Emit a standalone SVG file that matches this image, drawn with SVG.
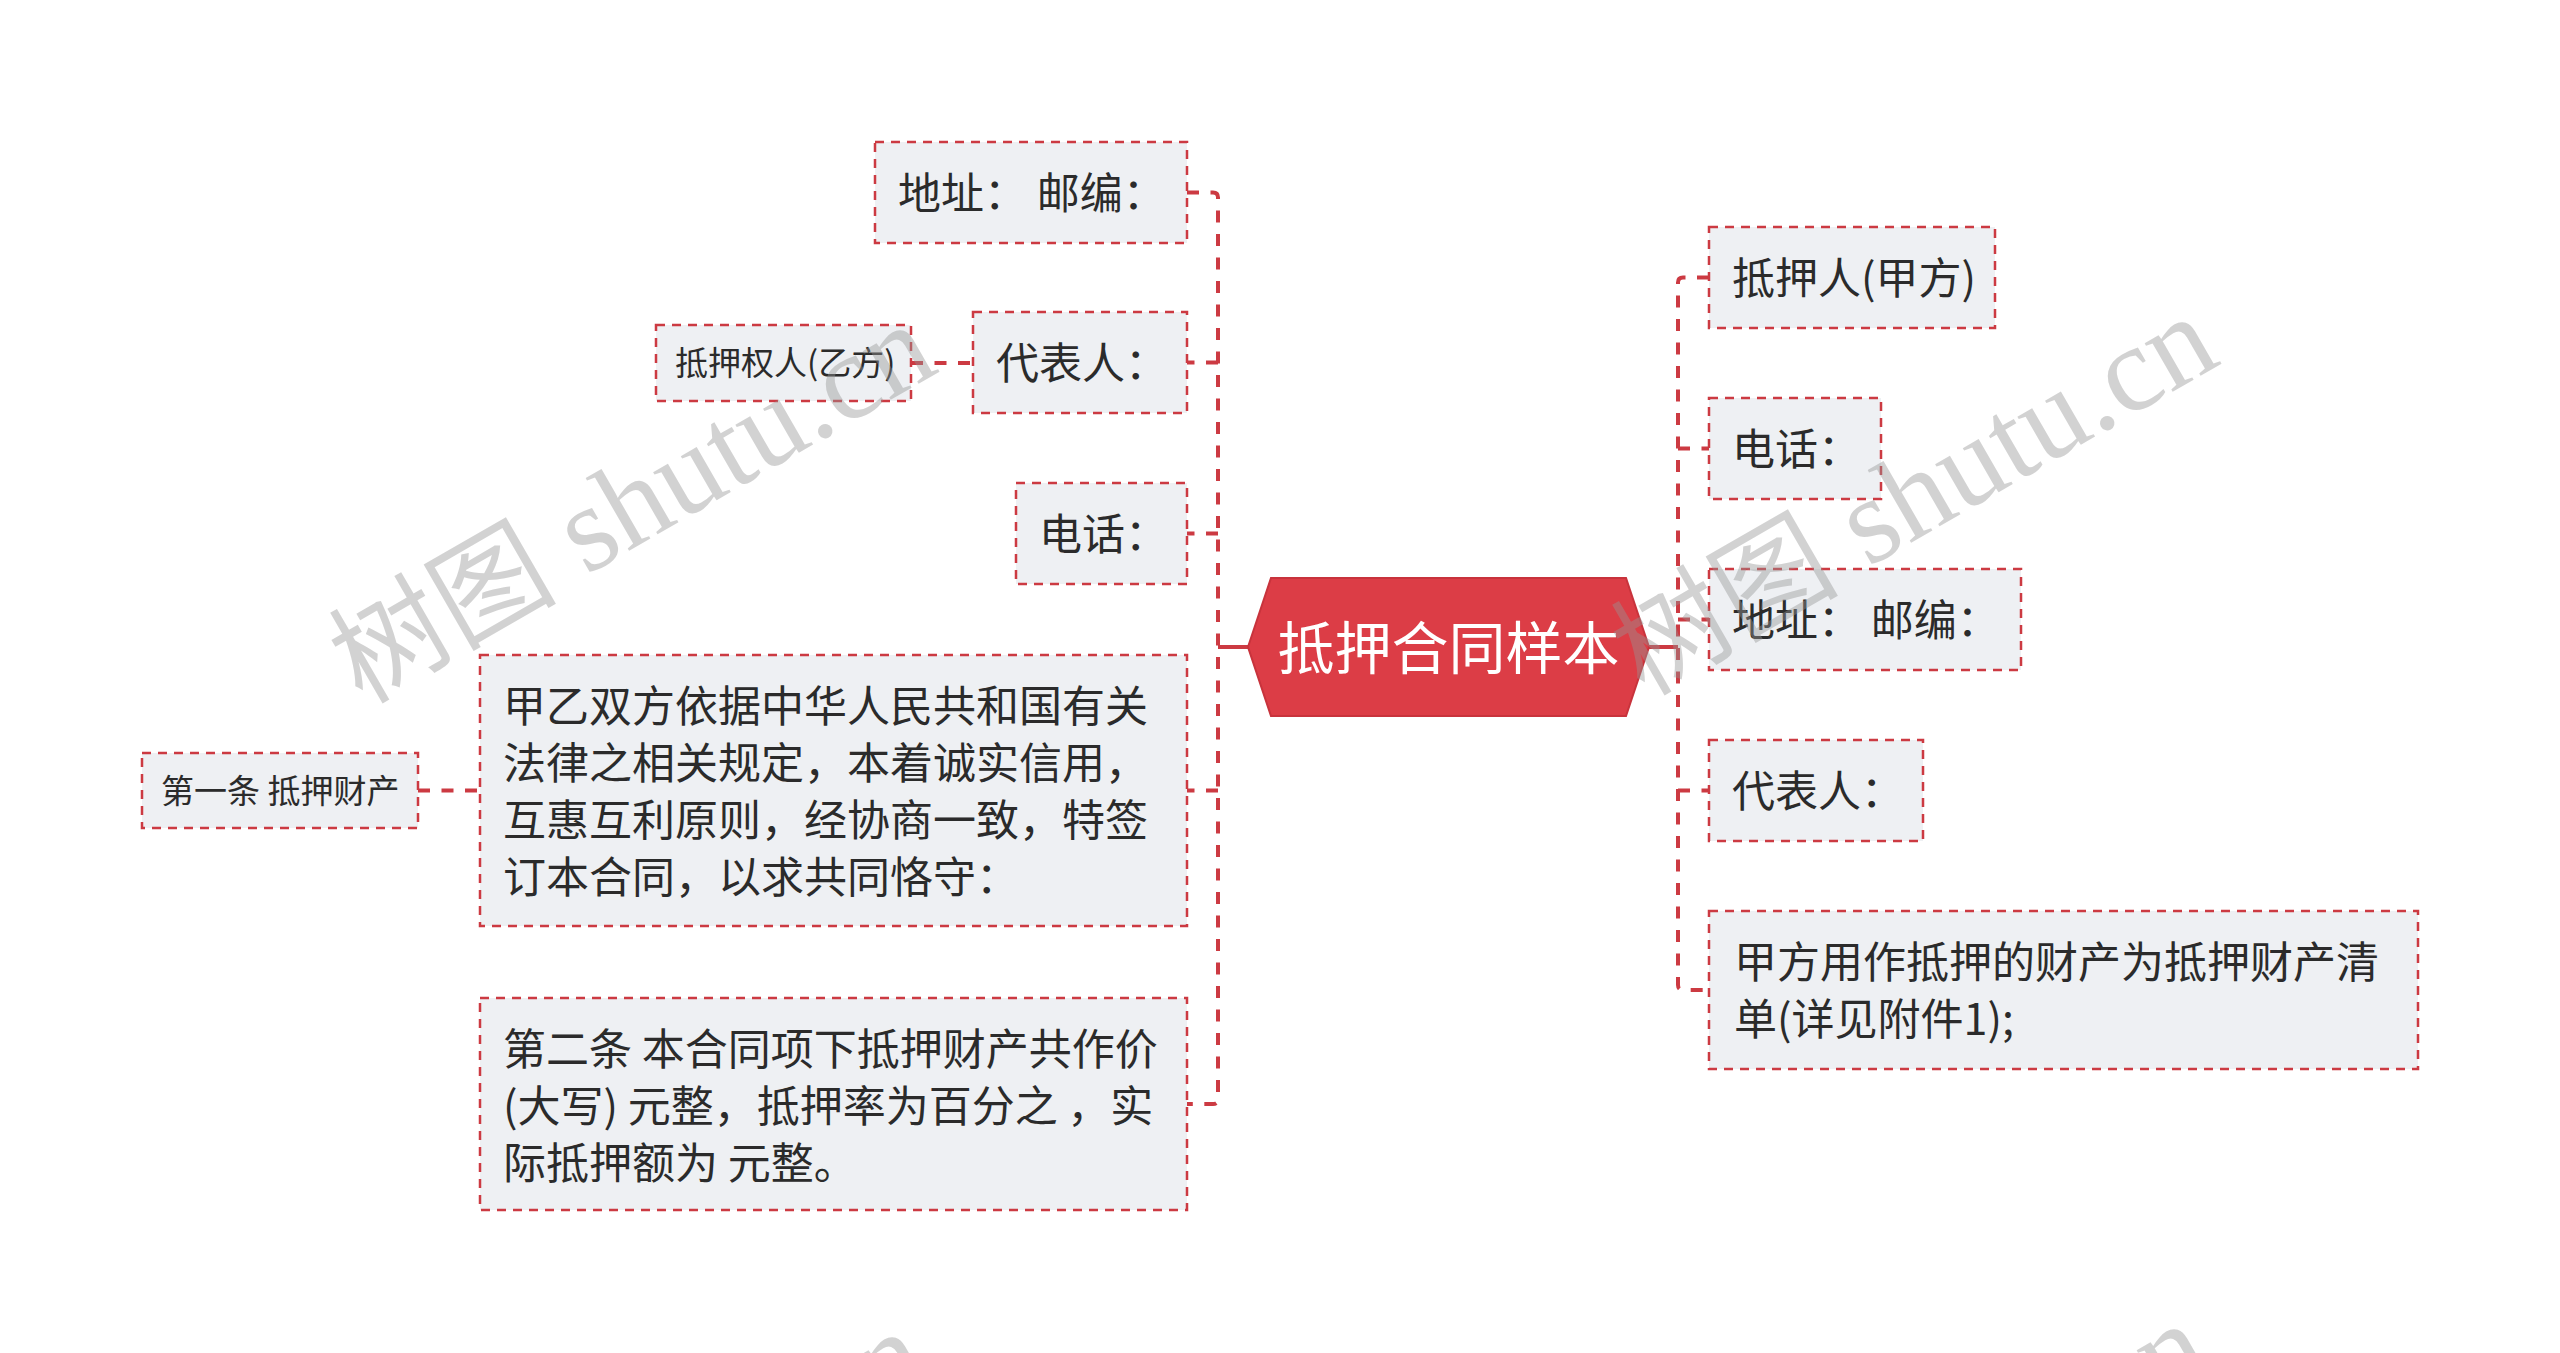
<svg xmlns="http://www.w3.org/2000/svg" width="2560" height="1353" viewBox="0 0 2560 1353">
<defs>
<style>
.box{fill:#eef0f3;stroke:#cc3a42;stroke-width:2.5;stroke-dasharray:9 7}
.t{font-family:"Noto Sans CJK SC","Noto Sans",sans-serif;font-size:43px;fill:#2b2b2b}
.s{font-family:"Noto Sans CJK SC","Noto Sans",sans-serif;font-size:33px;fill:#2b2b2b}
.c{font-family:"Noto Sans CJK SC","Noto Sans",sans-serif;font-size:57px;fill:#ffffff;text-anchor:middle}
.ln{fill:none;stroke:#cc3a42;stroke-width:4;stroke-dasharray:12 11.5}
.solid{fill:none;stroke:#cc3a42;stroke-width:4}
.wm{font-family:"Liberation Serif","Noto Sans CJK SC",serif;font-size:122px;fill:#969696;opacity:0.42}
.wc{font-size:114px}
</style>
</defs>
<rect width="2560" height="1353" fill="#ffffff"/>
<g id="connectors">
<line class="solid" x1="1218" y1="647" x2="1249" y2="647"/>
<line class="solid" x1="1648" y1="647" x2="1678" y2="647"/>
<path class="ln" d="M1187 192.5 H1213 Q1218 192.5 1218 197.5 V1099 Q1218 1104 1213 1104 H1187"/>
<path class="ln" d="M1218 362.5 H1187"/>
<path class="ln" d="M1218 533.5 H1187"/>
<path class="ln" d="M1218 790.5 H1187"/>
<path class="ln" d="M911 363 H973"/>
<path class="ln" d="M418 790.5 H480"/>
<path class="ln" d="M1709 277.5 H1683 Q1678 277.5 1678 282.5 V985 Q1678 990 1683 990 H1709"/>
<path class="ln" d="M1678 448.5 H1709"/>
<path class="ln" d="M1678 619.5 H1709"/>
<path class="ln" d="M1678 790.5 H1709"/>
</g>
<g id="center">
<polygon points="1248,647 1271,578 1626,578 1649,647 1626,716 1271,716" fill="#dc3d46" stroke="#c8333c" stroke-width="2"/>
<text class="c" x="1448.5" y="669">抵押合同样本</text>
</g>
<g id="l-addr">
<rect class="box" x="875" y="142" width="312" height="101"/>
<text class="t" x="898" y="209">地址： 邮编：</text>
</g>
<g id="l-rep">
<rect class="box" x="973" y="312" width="214" height="101"/>
<text class="t" x="996" y="379">代表人：</text>
</g>
<g id="l-mortgagee">
<rect class="box" x="656" y="325" width="255" height="76"/>
<text class="s" x="675" y="375">抵押权人(乙方)</text>
</g>
<g id="l-phone">
<rect class="box" x="1016" y="483" width="171" height="101"/>
<text class="t" x="1039" y="550">电话：</text>
</g>
<g id="l-basis">
<rect class="box" x="480" y="655" width="707" height="271"/>
<text class="t" x="503" y="722">甲乙双方依据中华人民共和国有关</text>
<text class="t" x="503" y="779">法律之相关规定，本着诚实信用，</text>
<text class="t" x="503" y="836">互惠互利原则，经协商一致，特签</text>
<text class="t" x="503" y="893">订本合同，以求共同恪守：</text>
</g>
<g id="l-art1">
<rect class="box" x="142" y="753" width="276" height="75"/>
<text class="s" x="161" y="803">第一条 抵押财产</text>
</g>
<g id="l-art2">
<rect class="box" x="480" y="998" width="707" height="212"/>
<text class="t" x="503" y="1065">第二条 本合同项下抵押财产共作价</text>
<text class="t" x="503" y="1122">(大写) 元整，抵押率为百分之 ，实</text>
<text class="t" x="503" y="1179">际抵押额为 元整。</text>
</g>
<g id="r-mortgagor">
<rect class="box" x="1709" y="227" width="286" height="101"/>
<text class="t" x="1732" y="294">抵押人(甲方)</text>
</g>
<g id="r-phone">
<rect class="box" x="1709" y="398" width="172" height="101"/>
<text class="t" x="1732" y="465">电话：</text>
</g>
<g id="r-addr">
<rect class="box" x="1709" y="569" width="312" height="101"/>
<text class="t" x="1732" y="636">地址： 邮编：</text>
</g>
<g id="r-rep">
<rect class="box" x="1709" y="740" width="214" height="101"/>
<text class="t" x="1732" y="807">代表人：</text>
</g>
<g id="r-property">
<rect class="box" x="1709" y="911" width="709" height="158"/>
<text class="t" x="1734" y="978">甲方用作抵押的财产为抵押财产清</text>
<text class="t" x="1734" y="1035">单(详见附件1);</text>
</g>
<g id="watermark">
<text class="wm" transform="translate(362,705) rotate(-30)"><tspan class="wc">树图</tspan> shutu.cn</text>
<text class="wm" transform="translate(1644,697) rotate(-30)"><tspan class="wc">树图</tspan> shutu.cn</text>
<text class="wm" transform="translate(354,1712) rotate(-30)"><tspan class="wc">树图</tspan> shutu.cn</text>
<text class="wm" transform="translate(1636,1704) rotate(-30)"><tspan class="wc">树图</tspan> shutu.cn</text>
</g>
</svg>
